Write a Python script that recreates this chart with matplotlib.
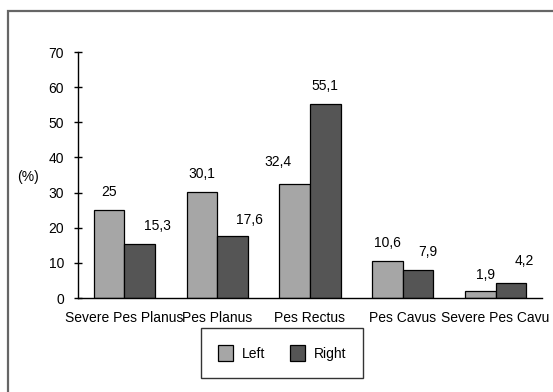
import numpy as np
import matplotlib
matplotlib.use("Agg")
import matplotlib.pyplot as plt
from matplotlib.patches import Rectangle

# foot type shares per side
categories = ["Severe Pes Planus", "Pes Planus", "Pes Rectus", "Pes Cavus", "Severe Pes Cavu"]
left_vals = [25, 30.1, 32.4, 10.6, 1.9]
right_vals = [15.3, 17.6, 55.1, 7.9, 4.2]
y_ticks = [0, 10, 20, 30, 40, 50, 60, 70]

# label nudges (pixels) so the numbers don't crowd each other
left_dx = [0, 0, -17, 0, 5]
left_dy = [0, 0, 4, 0, -2]
right_dx = [18, 17, 0, 10, 13]
right_dy = [0, -2, 0, 0, 4]

plt.rcParams['font.family'] = ['Liberation Sans', 'DejaVu Sans']
plt.rcParams['font.size'] = 10

W, H = 553, 392
fig = plt.figure(figsize=(W / 100, H / 100), dpi=100)

# outer frame, only the top and left edges fall inside the image
fig.patches.append(Rectangle((8 / W, -0.1), 1.2, 1.1 - 11 / H, transform=fig.transFigure,
                             fill=False, edgecolor="#666666", linewidth=1.6))

ax = fig.add_axes([78 / W, (H - 298) / H, (542 - 78) / W, (298 - 52) / H])

x = np.arange(len(categories))
w = 0.33
ax.bar(x - w / 2, left_vals, w, color="#a6a6a6", edgecolor="black", linewidth=0.9, label="Left")
ax.bar(x + w / 2, right_vals, w, color="#555555", edgecolor="black", linewidth=0.9, label="Right")

def fmt(v):
    return f"{v:g}".replace(".", ",")

px = 0.72  # points per pixel at 100 dpi
for i in range(len(categories)):
    ax.annotate(fmt(left_vals[i]), (x[i] - w / 2, left_vals[i]),
                xytext=(left_dx[i] * px, 8 + left_dy[i] * px),
                textcoords="offset points", ha="center", va="bottom")
    ax.annotate(fmt(right_vals[i]), (x[i] + w / 2, right_vals[i]),
                xytext=(right_dx[i] * px, 8 + right_dy[i] * px),
                textcoords="offset points", ha="center", va="bottom")

ax.set_xlim(-0.5, len(categories) - 0.5)
ax.set_ylim(0, 70)
ax.set_yticks(y_ticks)
ax.set_xticks(x)
ax.set_xticklabels(categories)
ax.tick_params(axis="x", length=0, pad=9)
ax.tick_params(axis="y", direction="inout", length=6, width=1, pad=7)
for s in ["top", "right"]:
    ax.spines[s].set_visible(False)
for s in ["left", "bottom"]:
    ax.spines[s].set_linewidth(1)

fig.text(28 / W, 1 - 177 / H, "(%)", ha="center", va="center")

leg = ax.legend(loc="center", bbox_to_anchor=((282 - 78) / (542 - 78), -(353 - 298) / (298 - 52)),
                ncol=2, frameon=True, fancybox=False, edgecolor="black", handlelength=1.1,
                handleheight=1.5, columnspacing=1.8, borderpad=1.2, handletextpad=0.6)
leg.get_frame().set_linewidth(1)

fig.savefig("out.png", dpi=100)
